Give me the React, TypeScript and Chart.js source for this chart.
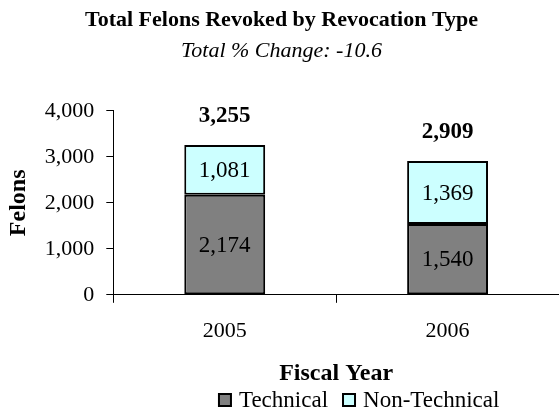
import React, { useEffect, useRef } from "react";
import { Chart, registerables } from "chart.js";

Chart.register(...registerables);

const categories = ["2005", "2006"];
const technical = [2174, 1540];
const nonTechnical = [1081, 1369];
const totals = [3255, 2909];
const yTicks = [0, 1000, 2000, 3000, 4000];

const SERIF = "'Liberation Serif', 'Times New Roman', serif";
const fmt = (v: number) => v.toLocaleString("en-US");

const labelsPlugin = {
  id: "barLabels",
  afterDatasetsDraw(chart: any) {
    const ctx = chart.ctx;
    ctx.save();
    ctx.fillStyle = "#000";
    ctx.textAlign = "center";
    ctx.textBaseline = "middle";
    ctx.font = `23px ${SERIF}`;
    chart.data.datasets.forEach((ds: any, di: number) => {
      const meta = chart.getDatasetMeta(di);
      meta.data.forEach((bar: any, i: number) => {
        const c = bar.getCenterPoint();
        ctx.fillText(fmt(ds.data[i]), c.x, c.y + 1);
      });
    });
    ctx.font = `bold 23px ${SERIF}`;
    const top = chart.getDatasetMeta(chart.data.datasets.length - 1);
    top.data.forEach((bar: any, i: number) => {
      ctx.fillText(fmt(totals[i]), bar.x, bar.y - 29);
    });
    ctx.restore();
  },
};

const legendPlugin = {
  id: "customLegend",
  afterDraw(chart: any) {
    const ctx = chart.ctx;
    ctx.save();
    ctx.font = `23px ${SERIF}`;
    ctx.textBaseline = "middle";
    ctx.textAlign = "left";
    const box = 12;
    const gap = 8;
    const itemGap = 15;
    const items = chart.data.datasets.map((ds: any) => ({
      label: ds.label,
      color: ds.backgroundColor,
      w: box + gap + ctx.measureText(ds.label).width,
    }));
    const total = items.reduce((s: number, it: any) => s + it.w, 0) + itemGap * (items.length - 1);
    const cx = (chart.chartArea.left + chart.chartArea.right) / 2 + 23;
    let x = cx - total / 2;
    const y = 400;
    items.forEach((it: any) => {
      ctx.fillStyle = it.color;
      ctx.fillRect(x, y - box / 2, box, box);
      ctx.strokeStyle = "#000";
      ctx.lineWidth = 2;
      ctx.strokeRect(x, y - box / 2, box, box);
      ctx.fillStyle = "#000";
      ctx.fillText(it.label, x + box + gap, y + 1);
      x += it.w + itemGap;
    });
    ctx.restore();
  },
};

export default function App() {
  const ref = useRef<HTMLCanvasElement | null>(null);
  useEffect(() => {
    if (!ref.current) return;
    const chart = new Chart(ref.current, {
      type: "bar",
      data: {
        labels: categories,
        datasets: [
          {
            label: "Technical",
            data: technical,
            backgroundColor: "#808080",
            borderColor: "#000",
            borderWidth: 2,
            borderSkipped: false,
          },
          {
            label: "Non-Technical",
            data: nonTechnical,
            backgroundColor: "#CCFFFF",
            borderColor: "#000",
            borderWidth: 2,
            borderSkipped: false,
          },
        ],
      },
      options: {
        responsive: false,
        animation: false,
        layout: { padding: { left: 4, right: 0, top: 0, bottom: 28 } },
        datasets: {
          bar: { categoryPercentage: 1, barPercentage: 0.363 },
        },
        plugins: {
          legend: { display: false },
          tooltip: { enabled: false },
          title: {
            display: true,
            text: "Total Felons Revoked by Revocation Type",
            color: "#000",
            font: { family: SERIF, size: 22, weight: "bold" },
            padding: { top: 7, bottom: 5 },
          },
          subtitle: {
            display: true,
            text: "Total % Change: -10.6",
            color: "#000",
            font: { family: SERIF, size: 22, style: "italic" },
            padding: { top: 0, bottom: 46 },
          },
        },
        scales: {
          x: {
            stacked: true,
            offset: true,
            grid: {
              offset: true,
              drawOnChartArea: false,
              drawTicks: true,
              tickLength: 8,
              color: "#000",
            },
            border: { color: "#000", width: 1 },
            ticks: {
              color: "#000",
              font: { family: SERIF, size: 22 },
              padding: 15,
            },
            title: {
              display: true,
              text: "Fiscal Year",
              color: "#000",
              font: { family: SERIF, size: 24, weight: "bold" },
              padding: { top: 0, bottom: 0 },
            },
          },
          y: {
            stacked: true,
            min: 0,
            max: 4000,
            afterBuildTicks: (scale: any) => {
              scale.ticks = yTicks.map((v) => ({ value: v }));
            },
            grid: {
              drawOnChartArea: false,
              drawTicks: true,
              tickLength: 7,
              color: "#000",
            },
            border: { color: "#000", width: 1 },
            ticks: {
              color: "#000",
              font: { family: SERIF, size: 22 },
              padding: 12,
              callback: (v: any) => fmt(Number(v)),
            },
            title: {
              display: true,
              text: "Felons",
              color: "#000",
              font: { family: SERIF, size: 24, weight: "bold" },
              padding: { top: 0, bottom: 0 },
            },
          },
        },
      },
      plugins: [labelsPlugin, legendPlugin],
    } as any);
    return () => chart.destroy();
  }, []);
  return (
    <div style={{ position: "absolute", left: 0, top: 0, width: 559, height: 416, background: "#fff" }}>
      <canvas ref={ref} width={559} height={416} style={{ width: 559, height: 416, display: "block" }} />
    </div>
  );
}
